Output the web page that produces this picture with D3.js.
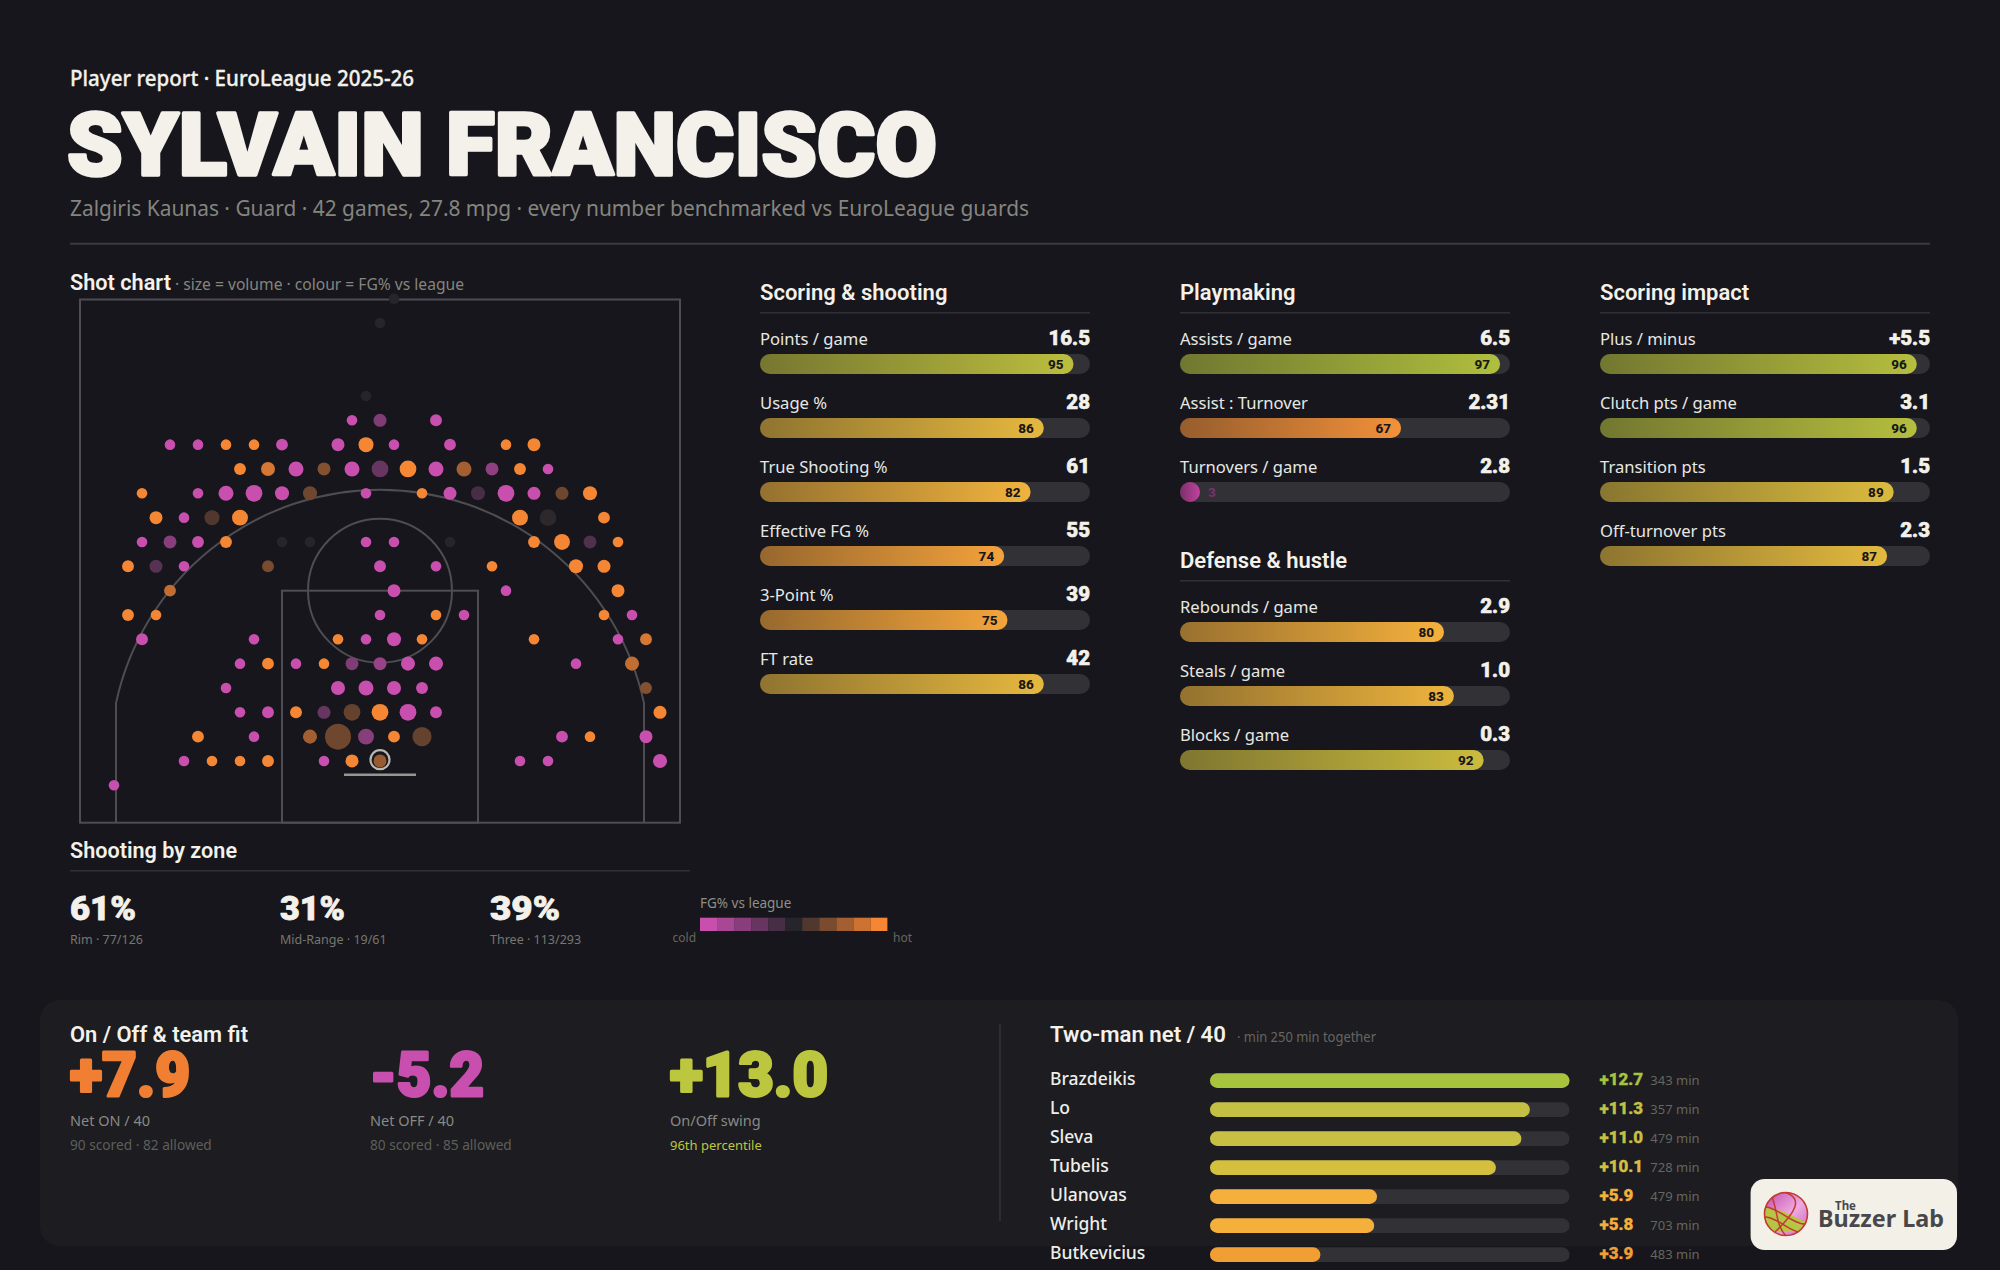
<!DOCTYPE html>
<html lang="en">
<head>
<meta charset="UTF-8">
<title>Sylvain Francisco player report</title>
<script src="https://d3js.org/d3.v7.min.js"></script>
<style>
  html, body { margin: 0; background: #16161c; }
  svg { display: block; }
  text { font-family: "Noto Sans", sans-serif; }
  .head { font-family: Roboto, sans-serif; }
</style>
</head>
<body>
<svg id="chart" width="2000" height="1270"></svg>
<script>
// shot chart: one entry per row of the hex grid, col is in half-cell steps from the hoop
const shotRowIds = [-5, -4, -1, 0, 1, 2, 3, 4, 5, 6, 7, 8, 9, 10, 11, 12, 13, 14, 15];
const shotCols = [
  [1], [0], [-1],
  [-2, 0, 4],
  [-15, -13, -11, -9, -7, -3, -1, 1, 5, 9, 11],
  [-10, -8, -6, -4, -2, 0, 2, 4, 6, 8, 10, 12],
  [-17, -13, -11, -9, -7, -5, -1, 3, 5, 7, 9, 11, 13, 15],
  [-16, -14, -12, -10, 10, 12, 16],
  [-17, -15, -13, -11, -7, -5, -1, 1, 5, 11, 13, 15, 17],
  [-18, -16, -14, -8, 0, 4, 8, 14, 16],
  [-15, 1, 9, 17],
  [-18, -16, 0, 4, 6, 16, 18],
  [-17, -9, -3, -1, 1, 3, 11, 17, 19],
  [-10, -8, -6, -4, -2, 0, 2, 4, 14, 18],
  [-11, -3, -1, 1, 3, 19],
  [-10, -8, -6, -4, -2, 0, 2, 4, 20],
  [-13, -9, -5, -3, -1, 1, 3, 13, 15, 19],
  [-14, -12, -10, -8, -4, -2, 0, 10, 12, 20],
  [-19]
];
const shotVols = [
  [2], [2], [2],
  [2, 3, 2.5],
  [2, 2, 2, 2, 2.5, 3, 4, 2, 2.5, 2, 3],
  [2.5, 3.5, 4, 3, 4, 5, 5, 4, 4, 3, 2.5, 2],
  [2, 2, 4, 5, 3.5, 3.5, 2, 2, 3, 3.5, 5, 3, 3, 3.5],
  [3, 2, 4, 4.5, 4.5, 5, 2.5],
  [2, 3, 2.5, 2.5, 2, 2, 2, 2, 2, 2.5, 4.5, 3, 2],
  [2.5, 3, 2, 2.5, 2.5, 2, 2, 3.5, 3],
  [2.5, 3, 2, 3],
  [2.5, 2, 2, 2, 2, 2, 2],
  [2.5, 2, 2, 2, 3.5, 2, 2, 2, 2.5],
  [2, 2.5, 2, 2, 3, 3, 3.5, 3.5, 2, 3.5],
  [2, 3.5, 4, 3.5, 2.5, 2.5],
  [2, 2.5, 2.5, 3, 5, 5, 5, 2.5, 3],
  [2.5, 2, 3.5, 12, 4.5, 2.5, 6.5, 2.5, 2, 3],
  [2, 2, 2, 2.5, 2, 3, 3, 2, 2, 3.5],
  [2]
];
const shotDiffs = [
  [0], [0], [0],
  [-1, -0.55, -1],
  [-1, -1, 1, 1, -1, -1, 1, -1, -1, 1, 1],
  [1, 0.85, -1, 0.45, -1, -0.4, 1, -1, 0.6, -0.65, 1, -1],
  [1, -1, -1, -1, -1, 0.35, -1, 1, -1, -0.2, -1, -1, 0.35, 1],
  [1, -1, 0.2, 1, 1, 0.03, 1],
  [-1, -0.6, -1, 1, 0, 0, -1, -1, 0, 1, 1, -0.25, 1],
  [1, -0.3, -1, 0.4, -1, -1, 1, 1, 1],
  [0.75, -1, -1, 1],
  [1, 1, -1, 1, -1, 1, -1],
  [-1, -1, 1, -1, -1, 1, 1, -1, 0.85],
  [-1, 1, -1, 1, -0.55, -0.7, -1, -1, -1, 0.75],
  [-1, -1, -1, -1, -1, 0.45],
  [-1, -1, 1, -0.4, 0.3, 1, -1, -1, 1],
  [1, -1, 0.6, 0.35, -0.6, 1, 0.3, -1, 1, -1],
  [-1, 1, 1, 1, -1, 1, 0.55, -1, -1, -1],
  [-1]
];

// percentile panels
const scoringLabels = ["Points / game", "Usage %", "True Shooting %", "Effective FG %", "3-Point %", "FT rate"];
const scoringValues = ["16.5", "28", "61", "55", "39", "42"];
const scoringPct = [95, 86, 82, 74, 75, 86];
const playmakingLabels = ["Assists / game", "Assist : Turnover", "Turnovers / game"];
const playmakingValues = ["6.5", "2.31", "2.8"];
const playmakingPct = [97, 67, 3];
const defenseLabels = ["Rebounds / game", "Steals / game", "Blocks / game"];
const defenseValues = ["2.9", "1.0", "0.3"];
const defensePct = [80, 83, 92];
const impactLabels = ["Plus / minus", "Clutch pts / game", "Transition pts", "Off-turnover pts"];
const impactValues = ["+5.5", "3.1", "1.5", "2.3"];
const impactPct = [96, 96, 89, 87];

// zones and on/off
const zoneValues = ["61%", "31%", "39%"];
const zoneLabels = ["Rim · 77/126", "Mid-Range · 19/61", "Three · 113/293"];
const legendSteps = [-1, -0.8, -0.6, -0.4, -0.2, 0, 0.2, 0.4, 0.6, 0.8, 1];
const onOffValues = ["+7.9", "-5.2", "+13.0"];
const onOffLabels = ["Net ON / 40", "Net OFF / 40", "On/Off swing"];
const onOffNotes = ["90 scored · 82 allowed", "80 scored · 85 allowed", "96th percentile"];

// two-man lineups
const duoNames = ["Brazdeikis", "Lo", "Sleva", "Tubelis", "Ulanovas", "Wright", "Butkevicius"];
const duoNet = [12.7, 11.3, 11.0, 10.1, 5.9, 5.8, 3.9];
const duoMinutes = [343, 357, 479, 728, 479, 703, 483];

const BG = "#16161c", PANEL = "#1c1c21", INK = "#f3f1ea", TRACK = "#313136", GRID = "#3a3a40";
const PINK = "#c84fae", ORANGE = "#f58634", LIME = "#bcc63f";

const svg = d3.select("#chart");
const defs = svg.append("defs");
svg.append("rect").attr("width", 2000).attr("height", 1270).attr("fill", BG);

function txt(parent, x, y, s, o = {}) {
  const fill = o.fill || INK;
  const t = parent.append("text").attr("x", x).attr("y", y).text(s)
    .attr("font-size", o.size || 16)
    .attr("font-weight", o.weight || 400)
    .attr("fill", fill)
    .attr("text-anchor", o.anchor || "start");
  if (o.cls) t.attr("class", o.cls);
  if (o.len) t.attr("textLength", o.len).attr("lengthAdjust", "spacingAndGlyphs");
  if (o.stroke) t.attr("stroke", fill).attr("stroke-width", o.stroke).attr("stroke-linejoin", "round");
  return t;
}

// header
txt(svg, 70, 86, "Player report · EuroLeague 2025-26", { size: 21, weight: 500, len: 344, stroke: 0.3 });
txt(svg, 67, 175, "SYLVAIN FRANCISCO", { size: 88, weight: 900, cls: "head", len: 870, stroke: 3.4 });
txt(svg, 70, 215.5, "Zalgiris Kaunas · Guard · 42 games, 27.8 mpg · every number benchmarked vs EuroLeague guards",
  { size: 22.5, fill: "#85857f", len: 959 });
svg.append("line").attr("x1", 70).attr("x2", 1930).attr("y1", 243.7).attr("y2", 243.7)
  .attr("stroke", GRID).attr("stroke-width", 2);

// shot chart, court drawn in metres
txt(svg, 70, 290, "Shot chart", { size: 22, weight: 600, cls: "head", len: 101 });
txt(svg, 175, 290, "· size = volume · colour = FG% vs league", { size: 15.5, fill: "#85857f", len: 289 });

const courtX = d3.scaleLinear().domain([-7.5, 7.5]).range([80, 680]);
const courtY = d3.scaleLinear().domain([0, 13.08]).range([822.7, 299.5]);
const pxPerM = courtX(1) - courtX(0);
const line = "#4d4d52";
const court = svg.append("g").attr("fill", "none").attr("stroke", line).attr("stroke-width", 2);
court.append("rect").attr("x", courtX(-7.5)).attr("y", courtY(13.08))
  .attr("width", courtX(7.5) - courtX(-7.5)).attr("height", courtY(0) - courtY(13.08));
court.append("rect").attr("x", courtX(-2.45)).attr("y", courtY(5.8))
  .attr("width", courtX(2.45) - courtX(-2.45)).attr("height", courtY(0) - courtY(5.8));
court.append("circle").attr("cx", courtX(0)).attr("cy", courtY(5.8)).attr("r", 1.8 * pxPerM);
const threeAngle = Math.asin(6.6 / 6.75);
const threeArc = d3.arc().innerRadius(6.75 * pxPerM).outerRadius(6.75 * pxPerM)
  .startAngle(-threeAngle).endAngle(threeAngle);
court.append("path").attr("transform", `translate(${courtX(0)},${courtY(1.575)})`).attr("d", threeArc());
[-6.6, 6.6].forEach(x => {
  const elbow = 1.575 + 6.75 * Math.cos(threeAngle);
  court.append("line").attr("x1", courtX(x)).attr("x2", courtX(x)).attr("y1", courtY(0)).attr("y2", courtY(elbow));
});

const gridX = d3.scaleLinear().domain([-20, 20]).range([100, 660]);
const gridY = d3.scaleLinear().domain([0, 15]).range([420.3, 785.3]);
const sizeScale = d3.scaleSqrt().domain([0, 12]).range([0, 13]);
const diffColor = d3.scaleLinear().domain([-1, 0, 1]).range([PINK, "#27252c", ORANGE]);

const shots = shotRowIds.flatMap((row, i) =>
  shotCols[i].map((col, j) => ({ row, col, vol: shotVols[i][j], diff: shotDiffs[i][j] })));
svg.append("g").selectAll("circle").data(shots).join("circle")
  .attr("cx", d => gridX(d.col))
  .attr("cy", d => gridY(d.row))
  .attr("r", d => sizeScale(d.vol))
  .attr("fill", d => diffColor(d.diff));

// hoop and backboard sit above the shots
svg.append("circle").attr("cx", courtX(0)).attr("cy", courtY(1.575)).attr("r", 9.5)
  .attr("fill", "none").attr("stroke", "#b9b9b2").attr("stroke-width", 2.2);
svg.append("line").attr("x1", courtX(-0.9)).attr("x2", courtX(0.9)).attr("y1", courtY(1.2)).attr("y2", courtY(1.2))
  .attr("stroke", "#96968f").attr("stroke-width", 2.6);

// percentile bars
const pctX = d3.scaleLinear().domain([0, 100]).range([0, 330]);
const pctColor = d3.scaleLinear()
  .domain([0, 50, 67, 80, 88, 97])
  .range(["#c23fa8", "#c86a3a", "#f2913a", "#f6b13c", "#e0ba3e", "#b0bf3e"]);

function panel(x, headY, title, labels, values, pcts) {
  const g = svg.append("g").attr("transform", `translate(${x},0)`);
  txt(g, 0, headY, title, { size: 22, weight: 600, cls: "head" });
  g.append("line").attr("x1", 0).attr("x2", pctX(100)).attr("y1", headY + 12.7).attr("y2", headY + 12.7)
    .attr("stroke", "#303036").attr("stroke-width", 1.6);
  labels.forEach((label, i) => {
    const top = headY + 54 + i * 64;
    txt(g, 0, top - 9, label, { size: 16.6, fill: "#e8e8e3" });
    txt(g, pctX(100), top - 9, values[i], { size: 20.5, weight: 800, cls: "head", anchor: "end", stroke: 0.7 });
    g.append("rect").attr("y", top).attr("width", pctX(100)).attr("height", 20).attr("rx", 10).attr("fill", TRACK);
    const id = `grad-${x}-${headY}-${i}`;
    const c = pctColor(pcts[i]);
    const grad = defs.append("linearGradient").attr("id", id);
    grad.append("stop").attr("offset", "0%").attr("stop-color", d3.interpolateRgb(c, BG)(0.42));
    grad.append("stop").attr("offset", "100%").attr("stop-color", c);
    const w = Math.max(pctX(pcts[i]), 20);
    g.append("rect").attr("y", top).attr("width", w).attr("height", 20).attr("rx", 10).attr("fill", `url(#${id})`);
    if (pcts[i] >= 10) {
      txt(g, w - 10, top + 15, pcts[i], { size: 13.5, weight: 800, cls: "head", anchor: "end", fill: "#17171a" });
    } else {
      txt(g, w + 8, top + 15, pcts[i], { size: 13.5, weight: 800, cls: "head", fill: "#7a2f70" });
    }
  });
}
panel(760, 300, "Scoring & shooting", scoringLabels, scoringValues, scoringPct);
panel(1180, 300, "Playmaking", playmakingLabels, playmakingValues, playmakingPct);
panel(1180, 568, "Defense & hustle", defenseLabels, defenseValues, defensePct);
panel(1600, 300, "Scoring impact", impactLabels, impactValues, impactPct);

// shooting by zone
txt(svg, 70, 858, "Shooting by zone", { size: 22, weight: 600, cls: "head", len: 167 });
svg.append("line").attr("x1", 70).attr("x2", 690).attr("y1", 870.7).attr("y2", 870.7)
  .attr("stroke", "#303036").attr("stroke-width", 1.6);
const zoneX = d3.scalePoint().domain(zoneValues).range([70, 490]);
const zoneWidths = [66, 65, 70];
zoneValues.forEach((v, i) => {
  txt(svg, zoneX(v), 920, v, { size: 33, weight: 900, cls: "head", len: zoneWidths[i], stroke: 0.8 });
  txt(svg, zoneX(v), 944, zoneLabels[i], { size: 12.5, fill: "#77776f" });
});
txt(svg, 700, 907.7, "FG% vs league", { size: 13.5, fill: "#8f8f88" });
const legendX = d3.scaleBand().domain(legendSteps).range([700, 887.4]);
svg.append("g").selectAll("rect").data(legendSteps).join("rect")
  .attr("x", d => legendX(d)).attr("y", 917.7)
  .attr("width", legendX.bandwidth()).attr("height", 13.3)
  .attr("fill", d => diffColor(d));
txt(svg, 672.6, 941.7, "cold", { size: 12, fill: "#66665f" });
txt(svg, 893, 941.7, "hot", { size: 12, fill: "#66665f" });

// bottom panel
svg.append("rect").attr("x", 40).attr("y", 1000).attr("width", 1918).attr("height", 246).attr("rx", 20).attr("fill", PANEL);
txt(svg, 70, 1041.7, "On / Off & team fit", { size: 22, weight: 600, cls: "head", len: 178 });
const onOffX = d3.scalePoint().domain(onOffValues).range([70, 670]);
const onOffColors = ["#f07f33", PINK, LIME];
const onOffWidths = [120, 114, 158];
onOffValues.forEach((v, i) => {
  txt(svg, onOffX(v), 1096, v, { size: 62, weight: 900, cls: "head", fill: onOffColors[i], len: onOffWidths[i], stroke: 3 });
  txt(svg, onOffX(v), 1125.7, onOffLabels[i], { size: 14.5, fill: "#8a8a85" });
  txt(svg, onOffX(v), 1149.5, onOffNotes[i], { size: i === 2 ? 13 : 13.7, fill: i === 2 ? LIME : "#5f5f5a" });
});
svg.append("line").attr("x1", 1000).attr("x2", 1000).attr("y1", 1024).attr("y2", 1221)
  .attr("stroke", "#323238").attr("stroke-width", 1.6);

txt(svg, 1050, 1042, "Two-man net / 40", { size: 22, weight: 600, cls: "head", len: 176 });
txt(svg, 1237, 1042, "· min 250 min together", { size: 13.5, fill: "#66665f", len: 139 });
const duoX = d3.scaleLinear().domain([0, 12.7]).range([1210, 1569.5]);
const duoY = d3.scaleBand().domain(duoNames).range([1073.3, 1073.3 + 29 * 7]);
const duoColor = d3.scaleLinear().domain([3.9, 5.9, 10.1, 11.3, 12.7])
  .range(["#f19f35", "#f5b03b", "#d4bf3f", "#c4c043", "#a8c43f"]);
duoNames.forEach((name, i) => {
  const y = duoY(name);
  txt(svg, 1050, y + 12, name, { size: 17.5, weight: 500, fill: "#eeeeea" });
  svg.append("rect").attr("x", duoX(0)).attr("y", y).attr("width", duoX.range()[1] - duoX(0)).attr("height", 14.7)
    .attr("rx", 7.3).attr("fill", TRACK);
  svg.append("rect").attr("x", duoX(0)).attr("y", y).attr("width", duoX(duoNet[i]) - duoX(0)).attr("height", 14.7)
    .attr("rx", 7.3).attr("fill", duoColor(duoNet[i]));
  txt(svg, 1599.5, y + 12, "+" + duoNet[i].toFixed(1), { size: 17, weight: 800, cls: "head", fill: duoColor(duoNet[i]), stroke: 0.4 });
  txt(svg, 1699.6, y + 12, duoMinutes[i] + " min", { size: 13, fill: "#66665f", anchor: "end" });
});

// logo card
const logo = svg.append("g");
logo.append("rect").attr("x", 1750.6).attr("y", 1179).attr("width", 206.4).attr("height", 71).attr("rx", 14).attr("fill", "#f3f0e8");
const clip = defs.append("clipPath").attr("id", "ball");
clip.append("circle").attr("cx", 1786).attr("cy", 1214).attr("r", 22);
const ballGrad = defs.append("linearGradient").attr("id", "ball-fill").attr("x1", 0).attr("y1", 0).attr("x2", 1).attr("y2", 1);
ballGrad.append("stop").attr("offset", "0%").attr("stop-color", "#c04aa8");
ballGrad.append("stop").attr("offset", "55%").attr("stop-color", "#eeaae2");
ballGrad.append("stop").attr("offset", "100%").attr("stop-color", "#c860b8");
const ball = logo.append("g").attr("clip-path", "url(#ball)");
ball.append("circle").attr("cx", 1786).attr("cy", 1214).attr("r", 22).attr("fill", "url(#ball-fill)");
ball.append("path").attr("d", "M1764 1208 C1776 1206 1792 1216 1806 1222 L1798 1232 L1776 1232 L1764 1224 Z").attr("fill", "#b7c544");
const seams = ["M1766 1207 C1778 1208 1796 1226 1806 1224", "M1764 1217 C1776 1216 1790 1232 1800 1232",
  "M1772 1197 C1778 1212 1776 1226 1786 1236", "M1784 1192 C1804 1198 1796 1212 1775 1232"];
ball.selectAll("path.seam").data(seams).join("path").attr("class", "seam").attr("d", d => d)
  .attr("fill", "none").attr("stroke", "#c23a33").attr("stroke-width", 1.5);
logo.append("circle").attr("cx", 1786).attr("cy", 1214).attr("r", 21.5).attr("fill", "none").attr("stroke", "#c23a33").attr("stroke-width", 1.6);
txt(logo, 1835, 1210, "The", { size: 13, weight: 700, fill: "#48484a", len: 21 });
txt(logo, 1818, 1226.7, "Buzzer Lab", { size: 24, weight: 700, fill: "#48484a", len: 126 });
</script>
</body>
</html>
